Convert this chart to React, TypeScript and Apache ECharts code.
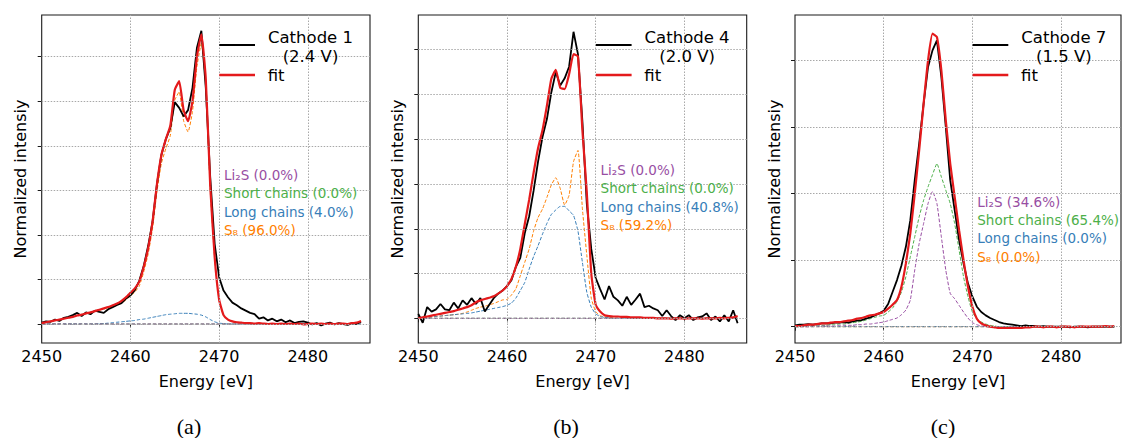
import React, { useEffect, useRef } from "react";
import * as echarts from "echarts";

// ---------------- data ----------------
const energy = [
  2450, 2450.5, 2451, 2451.5, 2452, 2452.5, 2453, 2453.5, 2454, 2454.5,
  2455, 2455.5, 2456, 2456.5, 2457, 2457.5, 2458, 2458.5, 2459, 2459.5,
  2460, 2460.5, 2461, 2461.5, 2462, 2462.5, 2463, 2463.5, 2464, 2464.5,
  2465, 2465.5, 2466, 2466.5, 2467, 2467.5, 2468, 2468.5, 2469, 2469.5,
  2470, 2470.5, 2471, 2471.5, 2472, 2472.5, 2473, 2473.5, 2474, 2474.5,
  2475, 2475.5, 2476, 2476.5, 2477, 2477.5, 2478, 2478.5, 2479, 2479.5,
  2480, 2480.5, 2481, 2481.5, 2482, 2482.5, 2483, 2483.5, 2484, 2484.5,
  2485, 2485.5, 2486,
];

// Cathode 1 (2.4 V)
const aData = [
  0.03, 0.06, 0.05, 0.1, 0.07, 0.14, 0.16, 0.2, 0.25, 0.18,
  0.26, 0.22, 0.3, 0.27, 0.25, 0.33, 0.38, 0.43, 0.47, 0.57,
  0.64, 0.76, 0.97, 1.3, 1.75, 2.3, 3.15, 3.8, 4.15, 4.4,
  4.98, 4.85, 4.66, 4.8, 5.3, 6.2, 6.58, 5.3, 3.3, 1.8,
  1.05, 0.75, 0.6, 0.48, 0.42, 0.35, 0.3, 0.25, 0.22, 0.12,
  0.15, 0.08, 0.12, 0.06, 0.1, 0.04, 0.08, 0.02, 0.05, 0.06,
  0.03, -0.01, 0.02, -0.03, 0.01, 0.03, -0.01, 0.02, 0.0, -0.02,
  0.02, 0.0, 0.05,
];
const aFit = [
  0.02, 0.04, 0.06, 0.08, 0.1, 0.12, 0.14, 0.16, 0.19, 0.21,
  0.24, 0.26, 0.29, 0.32, 0.35, 0.38, 0.42, 0.46, 0.52, 0.6,
  0.7, 0.8, 0.95, 1.28, 1.7, 2.3, 3.15, 3.8, 4.15, 4.45,
  5.25, 5.45, 4.8, 4.55, 5.0, 6.0, 6.5, 5.5, 3.1, 1.5,
  0.55, 0.2, 0.1, 0.06, 0.04, 0.03, 0.02, 0.02, 0.01, 0.02,
  0.01, 0.0, 0.01, 0.0, 0.01, 0.0, 0.01, 0.0, 0.01, -0.01,
  0.0, 0.01, 0.0, 0.01, 0.0, 0.01, 0.0, 0.01, 0.01, 0.0,
  0.02, 0.03, 0.07,
];
const aLong = [
  0, 0, 0, 0, 0, 0, 0, 0, 0, 0,
  0, 0, 0, 0.01, 0.01, 0.02, 0.03, 0.04, 0.05, 0.06,
  0.07, 0.08, 0.1, 0.11, 0.13, 0.15, 0.17, 0.19, 0.21, 0.22,
  0.23, 0.24, 0.24, 0.24, 0.23, 0.22, 0.2, 0.16, 0.1, 0.05,
  0.02, 0.01, 0, 0, 0, 0, 0, 0, 0, 0,
  0, 0, 0, 0, 0, 0, 0, 0, 0, 0,
  0, 0, 0, 0, 0, 0, 0, 0, 0, 0,
  0, 0, 0,
];
const aS8 = [
  0.02, 0.04, 0.06, 0.08, 0.1, 0.12, 0.14, 0.16, 0.19, 0.21,
  0.24, 0.26, 0.29, 0.31, 0.34, 0.36, 0.39, 0.42, 0.47, 0.54,
  0.63, 0.72, 0.85, 1.17, 1.57, 2.15, 2.98, 3.61, 3.94, 4.23,
  5.02, 5.21, 4.56, 4.31, 4.77, 5.78, 6.3, 5.34, 3.0, 1.45,
  0.53, 0.19, 0.1, 0.06, 0.04, 0.03, 0.02, 0.02, 0.01, 0.02,
  0.01, 0.0, 0.01, 0.0, 0.01, 0.0, 0.01, 0.0, 0.01, -0.01,
  0.0, 0.01, 0.0, 0.01, 0.0, 0.01, 0.0, 0.01, 0.01, 0.0,
  0.02, 0.03, 0.07,
];

// Cathode 4 (2.0 V)
const bData = [
  0.1, -0.1, 0.25, 0.15, 0.2, 0.32, 0.2, 0.18, 0.35, 0.22,
  0.4, 0.3, 0.45, 0.32, 0.45, 0.15, 0.3, 0.45, 0.55, 0.62,
  0.72, 0.85, 1.15, 1.35, 1.9, 2.28, 2.85, 3.5, 4.05, 4.45,
  5.05, 5.5, 5.2, 5.36, 5.62, 6.4, 5.9, 4.4, 2.55, 1.55,
  0.9, 0.65, 0.42, 0.72, 0.48, 0.4, 0.28, 0.48, 0.3, 0.42,
  0.55, 0.25, 0.28, 0.22, 0.18, 0.05, 0.18, 0.05, -0.04, 0.07,
  0.0, 0.07, -0.04, 0.02, 0.04, 0.11, -0.04, 0.04, -0.07, 0.07,
  -0.07, 0.18, -0.11,
];
const bFit = [
  0.0, 0.02, 0.04, 0.06, 0.08, 0.1, 0.12, 0.14, 0.16, 0.19,
  0.22, 0.25, 0.29, 0.36, 0.4, 0.43, 0.46, 0.49, 0.55, 0.62,
  0.72, 0.88, 1.15, 1.55, 2.1, 2.65, 3.25, 3.8, 4.2, 4.75,
  5.35, 5.55, 5.15, 5.12, 5.45, 5.9, 5.85, 4.2, 2.8, 1.0,
  0.3, 0.15, 0.07, 0.05, 0.04, 0.04, 0.03, 0.03, 0.02, 0.02,
  0.02, 0.01, 0.01, 0.01, 0.0, 0.0, 0.0, -0.01, 0.0, 0.0,
  -0.01, 0.0, 0.0, 0.0, -0.01, 0.0, 0.0, 0.0, 0.01, 0.0,
  0.01, 0.02, 0.05,
];
const bLong = [
  0.0, 0.01, 0.02, 0.03, 0.04, 0.05, 0.06, 0.07, 0.08, 0.09,
  0.1, 0.11, 0.12, 0.14, 0.16, 0.18, 0.2, 0.22, 0.24, 0.26,
  0.29, 0.34, 0.45, 0.62, 0.8, 1.1, 1.38, 1.62, 1.88, 2.12,
  2.32, 2.42, 2.5, 2.5, 2.4, 2.3, 1.95, 1.25, 0.58, 0.25,
  0.1, 0.04, 0.02, 0.01, 0, 0, 0, 0, 0, 0,
  0, 0, 0, 0, 0, 0, 0, 0, 0, 0,
  0, 0, 0, 0, 0, 0, 0, 0, 0, 0,
  0, 0, 0,
];
const bS8 = [
  0.0, 0.01, 0.02, 0.03, 0.04, 0.05, 0.06, 0.07, 0.08, 0.09,
  0.11, 0.14, 0.18, 0.22, 0.25, 0.27, 0.3, 0.33, 0.37, 0.41,
  0.42, 0.52, 0.66, 0.95, 1.25, 1.55, 1.95, 2.25, 2.44, 2.7,
  2.98, 3.14, 2.9, 2.53, 2.75, 3.5, 3.75, 2.45, 1.4, 0.45,
  0.15, 0.06, 0.03, 0.02, 0.01, 0, 0, 0, 0, 0,
  0, 0, 0, 0, 0, 0, 0, 0, 0, 0,
  0, 0, 0, 0, 0, 0, 0, 0, 0, 0,
  0, 0, 0,
];

// Cathode 7 (1.5 V)
const cData = [
  0.02, 0.03, 0.03, 0.04, 0.03, 0.04, 0.05, 0.05, 0.05, 0.06,
  0.06, 0.07, 0.06, 0.08, 0.09, 0.1, 0.12, 0.14, 0.17, 0.2,
  0.24, 0.34, 0.52, 0.7, 0.92, 1.2, 1.6, 2.2, 2.75, 3.35,
  3.9, 4.15, 4.3, 3.75, 3.0, 2.2, 1.75, 1.3, 0.95, 0.65,
  0.45, 0.3, 0.22, 0.17, 0.13, 0.1, 0.07, 0.05, 0.04, 0.03,
  0.02, 0.01, 0.02, 0.01, 0.01, 0.0, 0.01, 0.0, 0.0, 0.0,
  0.0, 0.0, -0.01, 0.0, 0.0, 0.0, -0.01, 0.0, 0.0, 0.0,
  0.0, 0.0, 0.0,
];
const cFit = [
  0.01, 0.01, 0.02, 0.03, 0.03, 0.04, 0.05, 0.05, 0.06, 0.07,
  0.07, 0.08, 0.09, 0.1, 0.12, 0.13, 0.15, 0.17, 0.18, 0.2,
  0.22, 0.27, 0.33, 0.4, 0.6, 0.95, 1.4, 2.0, 2.65, 3.35,
  4.0, 4.4, 4.35, 3.85, 3.1, 2.45, 1.95, 1.45, 1.0, 0.6,
  0.3, 0.12, 0.05, 0.02, 0.0, -0.01, -0.02, -0.02, -0.02, -0.02,
  -0.02, -0.02, -0.01, -0.01, 0.0, 0.0, -0.01, 0.0, 0.0, -0.01,
  0.0, 0.0, 0.0, -0.01, 0.0, 0.0, 0.0, 0.0, 0.0, 0.0,
  0.01, 0.0, 0.01,
];
const cLi2S = [
  0.0, 0.0, 0.0, 0.0, 0.01, 0.01, 0.01, 0.01, 0.01, 0.01,
  0.02, 0.02, 0.02, 0.02, 0.03, 0.03, 0.04, 0.04, 0.05, 0.06,
  0.07, 0.09, 0.11, 0.13, 0.18, 0.25, 0.4, 0.85, 1.25, 1.55,
  1.85, 2.03, 1.85, 1.35, 0.85, 0.5, 0.42, 0.32, 0.22, 0.13,
  0.06, 0.03, 0.01, 0, 0, 0, 0, 0, 0, 0,
  0, 0, 0, 0, 0, 0, 0, 0, 0, 0,
  0, 0, 0, 0, 0, 0, 0, 0, 0, 0,
  0, 0, 0,
];
const cShort = [
  0.0, 0.0, 0.01, 0.01, 0.01, 0.02, 0.02, 0.02, 0.03, 0.03,
  0.04, 0.04, 0.05, 0.06, 0.07, 0.08, 0.1, 0.12, 0.14, 0.16,
  0.17, 0.22, 0.28, 0.38, 0.52, 0.75, 1.05, 1.35, 1.65, 1.9,
  2.1, 2.28, 2.45, 2.25, 2.05, 1.85, 1.55, 1.15, 0.75, 0.45,
  0.22, 0.12, 0.07, 0.04, 0.02, 0.01, 0, 0, 0, 0,
  0, 0, 0, 0, 0, 0, 0, 0, 0, 0,
  0, 0, 0, 0, 0, 0, 0, 0, 0, 0,
  0, 0, 0,
];

// components with zero weight: flat lines
const zeroEnergy = [2450, 2486];
const zeroValues = [0, 0];

const componentNames = ["Li\u2082S", "Short chains", "Long chains", "S\u2088"];
const aPercent = [0.0, 0.0, 4.0, 96.0];
const bPercent = [0.0, 0.0, 40.8, 59.2];
const cPercent = [34.6, 65.4, 0.0, 0.0];
const cathodeNames = ["Cathode 1", "Cathode 4", "Cathode 7"];
const voltages = ["(2.4 V)", "(2.0 V)", "(1.5 V)"];
const captions = ["(a)", "(b)", "(c)"];
const xTicks = [2450, 2460, 2470, 2480];

// ---------------- styles / layout ----------------
const COLORS = {
  data: "#000000",
  fit: "#e41a1c",
  li2s: "#984ea3",
  short: "#4daf4a",
  long: "#377eb8",
  s8: "#ff7f00",
};
const FONT = "DejaVu Sans";

const panels = [
  {
    left: 41.7, width: 328.3, yMin: -0.426, yMax: 6.935, yTicks: [0, 1, 2, 3, 4, 5, 6],
    data: aData, fit: aFit, comps: [null, null, aLong, aS8], pct: aPercent,
    annTop: 175, capX: 189,
  },
  {
    left: 418.3, width: 328.4, yMin: -0.552, yMax: 6.775, yTicks: [0, 1, 2, 3, 4, 5, 6],
    data: bData, fit: bFit, comps: [null, null, bLong, bS8], pct: bPercent,
    annTop: 170, capX: 566,
  },
  {
    left: 795, width: 326, yMin: -0.245, yMax: 4.681, yTicks: [0, 1, 2, 3, 4],
    data: cData, fit: cFit, comps: [cLi2S, cShort, null, null], pct: cPercent,
    annTop: 201.7, capX: 943,
  },
];
const compColors = [COLORS.li2s, COLORS.short, COLORS.long, COLORS.s8];
const TOP = 15;
const HEIGHT = 328;
const PX_PER_EV = 8.87;

function pairs(xs: number[], ys: number[]) {
  return xs.map((x, i) => [x, ys[i]]);
}

export default function App() {
  const ref = useRef<HTMLDivElement>(null);

  useEffect(() => {
    if (!ref.current) return;
    const chart = echarts.init(ref.current, null, { renderer: "svg" });

    const grid: any[] = [];
    const xAxis: any[] = [];
    const yAxis: any[] = [];
    const series: any[] = [];
    const graphic: any[] = [];

    panels.forEach((p, i) => {
      grid.push({
        left: p.left,
        top: TOP,
        width: p.width,
        height: HEIGHT,
        show: true,
        borderColor: "#1a1a1a",
        borderWidth: 1.1,
        backgroundColor: "transparent",
        containLabel: false,
      });
      xAxis.push({
        type: "value",
        gridIndex: i,
        min: 2450,
        max: 2450 + p.width / PX_PER_EV,
        interval: 10,
        axisLine: { show: false },
        axisTick: { show: true, length: 4, inside: false, lineStyle: { color: "#1a1a1a" }, customValues: xTicks },
        axisLabel: {
          show: true, fontSize: 16, fontFamily: FONT, color: "#000", margin: 5,
          customValues: xTicks,
          formatter: (v: number) => String(v),
        },
        splitLine: { show: false },
        name: "Energy [eV]",
        nameLocation: "middle",
        nameGap: 30,
        nameTextStyle: { fontSize: 16, fontFamily: FONT, color: "#000" },
      });
      yAxis.push({
        type: "value",
        gridIndex: i,
        min: p.yMin,
        max: p.yMax,
        axisLine: { show: false },
        axisTick: { show: true, length: 4, inside: false, customValues: p.yTicks, lineStyle: { color: "#1a1a1a" } },
        axisLabel: { show: false },
        splitLine: { show: false },
        name: "Normalized intensiy",
        nameLocation: "middle",
        nameGap: 13,
        nameTextStyle: { fontSize: 16, fontFamily: FONT, color: "#000" },
      });

      // grid lines (dotted) at the tick values
      series.push({
        type: "line",
        xAxisIndex: i,
        yAxisIndex: i,
        data: [],
        silent: true,
        z: 1,
        markLine: {
          silent: true,
          symbol: "none",
          animation: false,
          label: { show: false },
          lineStyle: { color: "#a8a8a8", width: 1, type: [1.5, 1.5] },
          data: [
            ...xTicks.slice(1).map((v) => ({ xAxis: v })),
            ...p.yTicks.map((v) => ({ yAxis: v })),
          ],
        },
      });

      // components drawn first (under data & fit), Li2S last among them
      const order = [3, 2, 1, 0];
      order.forEach((k) => {
        const comp = p.comps[k];
        series.push({
          type: "line",
          xAxisIndex: i,
          yAxisIndex: i,
          data: comp ? pairs(energy, comp) : pairs(zeroEnergy, zeroValues),
          showSymbol: false,
          silent: true,
          smooth: 0.15,
          lineStyle: { color: compColors[k], width: 1, type: [3.5, 1.8] },
          z: 2,
        });
      });
      series.push({
        type: "line",
        xAxisIndex: i,
        yAxisIndex: i,
        data: pairs(energy, p.data),
        showSymbol: false,
        lineStyle: { color: COLORS.data, width: 1.8 },
        z: 3,
      });
      series.push({
        type: "line",
        xAxisIndex: i,
        yAxisIndex: i,
        data: pairs(energy, p.fit),
        showSymbol: false,
        smooth: 0.15,
        lineStyle: { color: COLORS.fit, width: 2.2 },
        z: 4,
      });

      // legend (manual)
      const L = p.left;
      graphic.push({
        type: "line", shape: { x1: L + 177.6, y1: 45, x2: L + 213.3, y2: 45 },
        style: { stroke: COLORS.data, lineWidth: 2 }, z: 10,
      });
      graphic.push({
        type: "line", shape: { x1: L + 177.6, y1: 75, x2: L + 213.3, y2: 75 },
        style: { stroke: COLORS.fit, lineWidth: 2.6 }, z: 10,
      });
      graphic.push({
        type: "text", x: L + 268.8, y: 37.5, z: 10,
        style: { text: cathodeNames[i], fontSize: 16.5, fontFamily: FONT, fill: "#000", align: "center", verticalAlign: "middle" },
      });
      graphic.push({
        type: "text", x: L + 268.8, y: 56, z: 10,
        style: { text: voltages[i], fontSize: 16.5, fontFamily: FONT, fill: "#000", align: "center", verticalAlign: "middle" },
      });
      graphic.push({
        type: "text", x: L + 226, y: 75, z: 10,
        style: { text: "fit", fontSize: 16.5, fontFamily: FONT, fill: "#000", align: "left", verticalAlign: "middle" },
      });

      // component annotations
      componentNames.forEach((nm, k) => {
        graphic.push({
          type: "text", x: L + 182.3, y: p.annTop + k * 18.35, z: 10,
          style: {
            text: `${nm} (${p.pct[k].toFixed(1)}%)`,
            fontSize: 13.5, fontFamily: FONT, fill: compColors[k],
            align: "left", verticalAlign: "middle",
          },
        });
      });

      // caption
      graphic.push({
        type: "text", x: p.capX, y: 426, z: 10,
        style: { text: captions[i], fontSize: 22, fontFamily: "Liberation Serif", fill: "#000", align: "center", verticalAlign: "middle" },
      });
    });

    chart.setOption({
      animation: false,
      backgroundColor: "#ffffff",
      grid,
      xAxis,
      yAxis,
      series,
      graphic,
    });

    return () => chart.dispose();
  }, []);

  return (
    <div
      ref={ref}
      style={{ position: "fixed", left: 0, top: 0, width: 1122, height: 438 }}
    />
  );
}
